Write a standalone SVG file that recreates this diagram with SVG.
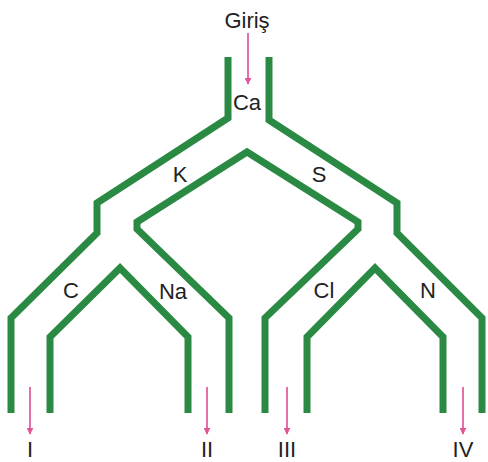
<svg xmlns="http://www.w3.org/2000/svg" width="488" height="462" viewBox="0 0 488 462">
<defs>
<style>
.tube{fill:none;stroke:#2a8a43;stroke-width:7;stroke-linejoin:miter;stroke-linecap:butt}
.flow{stroke:#e2559a;stroke-width:1.7;fill:none}
.lbl{font-family:"Liberation Sans",Arial,sans-serif;font-size:22px;fill:#222;text-anchor:middle}
</style>
<marker id="ah" viewBox="0 0 10 10" refX="9" refY="5" markerWidth="7" markerHeight="7" orient="auto" markerUnits="userSpaceOnUse">
<path d="M0,0 L10,5 L0,10 z" fill="#e2559a"/>
</marker>
</defs>
<rect width="488" height="462" fill="#ffffff"/>
<g id="tubes">
<path class="tube" d="M228,57 L228,118 L97,203 L97,233 L11,318 L11,413"/>
<path class="tube" d="M269,57 L269,120 L397,203 L397,233 L482,318 L482,413"/>
<path class="tube" d="M229,413 L229,318 L137,229 L137,222 L247,152 L358,222 L358,229 L265,318 L265,413"/>
<path class="tube" d="M50,413 L50,337 L120,268 L188,337 L188,413"/>
<path class="tube" d="M307,413 L307,337 L375,268 L443,337 L443,413"/>
</g>
<g id="connectors">
<line class="flow" x1="248" y1="33" x2="248" y2="84" marker-end="url(#ah)"/>
<line class="flow" x1="30" y1="387" x2="30" y2="434" marker-end="url(#ah)"/>
<line class="flow" x1="207" y1="387" x2="207" y2="434" marker-end="url(#ah)"/>
<line class="flow" x1="287" y1="387" x2="287" y2="434" marker-end="url(#ah)"/>
<line class="flow" x1="463" y1="387" x2="463" y2="434" marker-end="url(#ah)"/>
</g>
<g id="giris"><text class="lbl" x="247" y="28">Giriş</text></g>
<g id="Ca"><text class="lbl" x="247" y="110">Ca</text></g>
<g id="K"><text class="lbl" x="180" y="182">K</text></g>
<g id="S"><text class="lbl" x="319" y="182">S</text></g>
<g id="C"><text class="lbl" x="71" y="298">C</text></g>
<g id="Na"><text class="lbl" x="173" y="299">Na</text></g>
<g id="Cl"><text class="lbl" x="324" y="298">Cl</text></g>
<g id="N"><text class="lbl" x="428" y="298">N</text></g>
<g id="out1"><text class="lbl" x="30" y="457">I</text></g>
<g id="out2"><text class="lbl" x="207" y="457">II</text></g>
<g id="out3"><text class="lbl" x="287" y="457">III</text></g>
<g id="out4"><text class="lbl" x="463" y="457">IV</text></g>
</svg>
